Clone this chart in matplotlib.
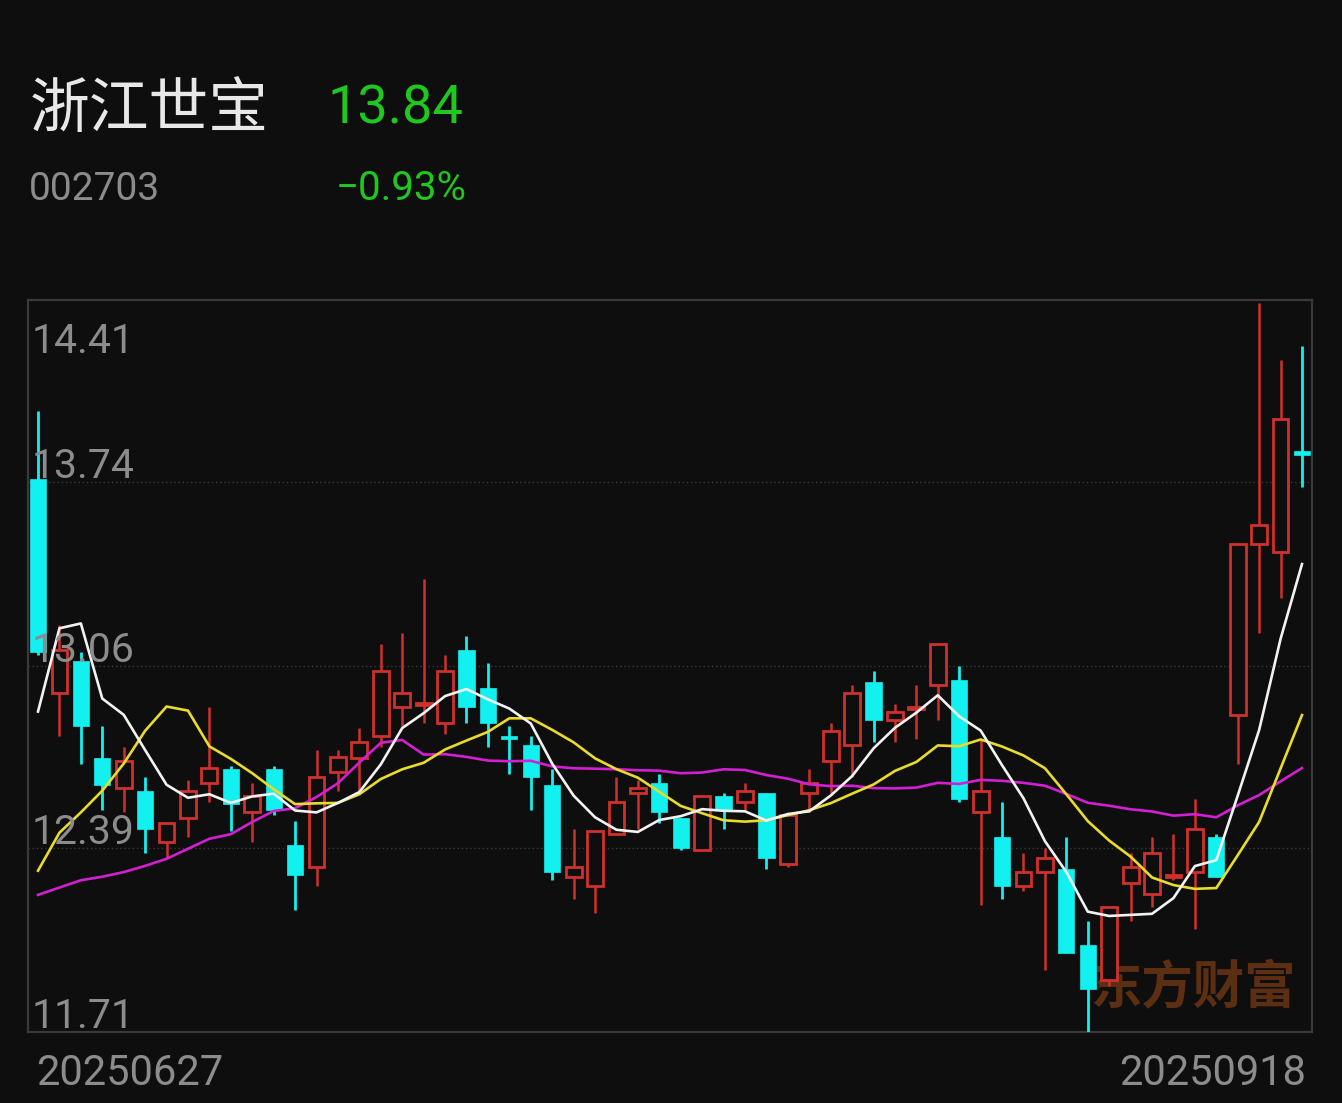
import matplotlib
matplotlib.use("Agg")
import matplotlib.pyplot as plt
from matplotlib.patches import Rectangle
import numpy as np
import pandas as pd

# ---------------- data ----------------
stock_name = "浙江世宝"
stock_code = "002703"
last_price = "13.84"
change_pct = "−0.93%"
date_start = "20250627"
date_end = "20250918"
y_levels = [11.71, 12.39, 13.06, 13.74, 14.41]
y_labels = ["11.71", "12.39", "13.06", "13.74", "14.41"]

opens = [13.75, 12.96, 13.08, 12.72, 12.61, 12.60, 12.41, 12.50, 12.63, 12.68,
         12.52, 12.68, 12.40, 12.32, 12.67, 12.72, 12.80, 12.91, 12.915, 12.85,
         13.12, 12.98, 12.80, 12.77, 12.62, 12.28, 12.25, 12.44, 12.59, 12.63,
         12.50, 12.38, 12.58, 12.56, 12.59, 12.33, 12.59, 12.71, 12.77, 13.00,
         12.86, 12.90, 12.99, 13.01, 12.52, 12.43, 12.25, 12.30, 12.31, 12.03,
         11.90, 12.26, 12.22, 12.28, 12.30, 12.43, 12.88, 13.51, 13.48, 13.85]
highs = [14.00, 13.21, 13.11, 12.84, 12.76, 12.65, 12.48, 12.64, 12.91, 12.69,
         12.63, 12.69, 12.49, 12.75, 12.75, 12.83, 13.14, 13.18, 13.38, 13.10,
         13.17, 13.07, 12.84, 12.80, 12.68, 12.46, 12.45, 12.65, 12.64, 12.66,
         12.50, 12.58, 12.59, 12.63, 12.59, 12.51, 12.68, 12.85, 12.99, 13.04,
         12.92, 12.99, 13.14, 13.06, 12.79, 12.56, 12.37, 12.39, 12.43, 12.12,
         12.17, 12.37, 12.43, 12.44, 12.57, 12.44, 13.51, 14.40, 14.19, 14.24]
lows = [13.10, 12.80, 12.70, 12.53, 12.52, 12.37, 12.35, 12.43, 12.56, 12.45,
        12.41, 12.51, 12.16, 12.25, 12.60, 12.60, 12.76, 12.84, 12.85, 12.81,
        12.85, 12.76, 12.66, 12.53, 12.27, 12.20, 12.15, 12.44, 12.46, 12.48,
        12.38, 12.38, 12.46, 12.53, 12.31, 12.32, 12.52, 12.59, 12.65, 12.78,
        12.78, 12.79, 12.86, 12.56, 12.18, 12.20, 12.23, 11.94, 12.00, 11.71,
        11.88, 12.12, 12.17, 12.27, 12.09, 12.28, 12.70, 13.18, 13.31, 13.72]
closes = [13.11, 13.12, 12.84, 12.62, 12.71, 12.46, 12.48, 12.60, 12.685, 12.55,
          12.58, 12.53, 12.29, 12.65, 12.725, 12.78, 13.04, 12.96, 12.925, 13.04,
          12.91, 12.85, 12.79, 12.65, 12.30, 12.32, 12.45, 12.56, 12.61, 12.52,
          12.39, 12.58, 12.53, 12.60, 12.35, 12.51, 12.63, 12.82, 12.96, 12.86,
          12.89, 12.91, 13.14, 12.57, 12.60, 12.25, 12.30, 12.35, 12.00, 11.87,
          12.17, 12.32, 12.37, 12.29, 12.46, 12.28, 13.51, 13.58, 13.97, 13.84]
# closes of the 19 sessions before the window (estimated from the MA lines)
prior_closes = [12.58, 12.30, 12.36, 12.37, 12.00, 11.96, 11.86, 11.945, 12.21, 11.68,
                11.72, 12.09, 11.82, 11.71, 11.25, 11.585, 12.75, 14.005, 13.01]

# ---------------- style ----------------
BG = "#0e0e0e"
RED = "#d0302c"
CYAN = "#12f0f0"
GRID = "#3a3a3a"
LBL = "#8c8c8c"
GREEN = "#1ec81e"
NUM_FONT = ["Roboto", "DejaVu Sans"]
CJK_FONT = ["Noto Sans CJK SC", "DejaVu Sans"]

W, H = 1342, 1103
fig = plt.figure(figsize=(W / 100, H / 100), dpi=100, facecolor=BG)

ax_l, ax_r, ax_t, ax_b = 28, 1312, 300, 1032
ax = fig.add_axes([ax_l / W, 1 - ax_b / H, (ax_r - ax_l) / W, (ax_b - ax_t) / H])
ax.set_facecolor(BG)

n = len(closes)
x = np.arange(n)
ax.set_xlim(-0.467, n - 1 + 0.467)
ax.set_ylim(y_levels[0], y_levels[-1])

for sp in ax.spines.values():
    sp.set_color("#3a3a3a")
    sp.set_linewidth(1.6)
ax.set_xticks([])
ax.set_yticks([])

for lv in y_levels[1:-1]:
    ax.axhline(lv, color=GRID, lw=1.0, ls=(0, (1, 2)), zorder=1)

# watermark
ax.text(0.907, 0.06, "东方财富", transform=ax.transAxes, ha="center", va="center",
        fontsize=37, fontweight="bold", color="#5c2e12", family=CJK_FONT, zorder=1.5)

# moving averages
all_closes = pd.Series(prior_closes + closes)
k = len(prior_closes)
ma5 = all_closes.rolling(5).mean().values[k:]
ma10 = all_closes.rolling(10).mean().values[k:]
ma20 = all_closes.rolling(20).mean().values[k:]

# candles
bw = 0.8
for i in range(n):
    o, h, l, c = opens[i], highs[i], lows[i], closes[i]
    top, bot = max(o, c), min(o, c)
    if c >= o:
        ax.plot([x[i], x[i]], [top, h], color=RED, lw=1.8, zorder=3, solid_capstyle="butt")
        ax.plot([x[i], x[i]], [l, bot], color=RED, lw=1.8, zorder=3, solid_capstyle="butt")
        hgt = max(top - bot, 0.008)
        ax.add_patch(Rectangle((x[i] - bw / 2 + 0.03, bot), bw - 0.06, hgt,
                               facecolor=BG, edgecolor=RED, lw=2.0, zorder=4))
    else:
        ax.plot([x[i], x[i]], [l, h], color=CYAN, lw=2.0, zorder=3, solid_capstyle="butt")
        hgt = max(top - bot, 0.012)
        ax.add_patch(Rectangle((x[i] - bw / 2 + 0.02, bot), bw - 0.04, hgt,
                               facecolor=CYAN, edgecolor=CYAN, lw=0.5, zorder=4))

ax.plot(x, ma20, color="#d21fd2", lw=1.9, zorder=5)
ax.plot(x, ma10, color="#e8dc28", lw=1.9, zorder=5)
ax.plot(x, ma5, color="#f2f2f2", lw=1.9, zorder=5)

# y labels inside the plot
for lv, lb in zip(y_levels, y_labels):
    if lv == y_levels[-1]:
        off = -53
    else:
        off = 4
    ax.annotate(lb, xy=(0, lv), xycoords=("axes fraction", "data"),
                xytext=(4, off), textcoords="offset pixels",
                ha="left", va="baseline", fontsize=29.5, color=LBL,
                family=NUM_FONT, zorder=6)

# header texts
def fx(px):
    return px / W

def fy(py):
    return 1 - py / H

fig.text(fx(30), fy(127), stock_name, ha="left", va="baseline", fontsize=43,
         color="#e8e8e8", family=CJK_FONT)
fig.text(fx(328), fy(123), last_price, ha="left", va="baseline", fontsize=39,
         color=GREEN, family=NUM_FONT)
fig.text(fx(29), fy(200), stock_code, ha="left", va="baseline", fontsize=28,
         color=LBL, family=NUM_FONT)
fig.text(fx(467), fy(200), change_pct, ha="right", va="baseline", fontsize=29,
         color=GREEN, family=NUM_FONT)

# date labels
fig.text(fx(36), fy(1085), date_start, ha="left", va="baseline", fontsize=30,
         color=LBL, family=NUM_FONT)
fig.text(fx(1306), fy(1085), date_end, ha="right", va="baseline", fontsize=30,
         color=LBL, family=NUM_FONT)

fig.savefig("out.png", dpi=100, facecolor=BG)
